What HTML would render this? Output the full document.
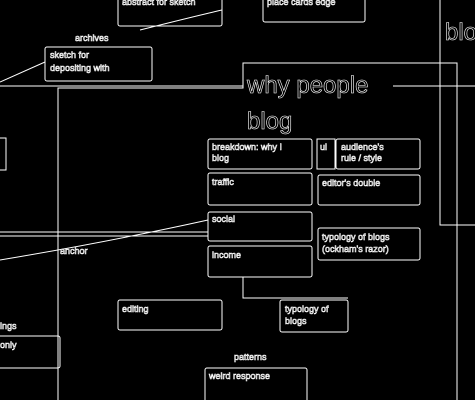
<!DOCTYPE html>
<html><head><meta charset="utf-8"><style>
html,body{margin:0;padding:0;background:#000;width:475px;height:400px;overflow:hidden}
svg{display:block}
text{font-family:"Liberation Sans",sans-serif;fill:#000;stroke:#fff;stroke-width:0.6}
.t{font-size:9px}
</style></head><body>
<svg width="475" height="400" viewBox="0 0 475 400" fill="none" stroke="#fff" stroke-width="1">
<!-- frames -->
<path d="M58 400 V88 H243 V63 H457 V400"/>
<path d="M0 86 H243 M393 86 H475"/>
<path d="M440 0 V225 H475"/>
<path d="M0 232 H208 M0 236 H208"/>
<path d="M0 260 C60 250 140 235 208 220"/>
<path d="M0 82 L45 62"/>
<path d="M140 30 C180 20 200 15 222 10"/>
<path d="M243 277 V298 H348"/>
<!-- top boxes -->
<rect x="118" y="-5" width="104" height="31" rx="2"/>
<text class="t" x="122" y="5">abstract for sketch</text>
<rect x="263" y="-5" width="102" height="27" rx="2"/>
<text class="t" x="267" y="5">place cards edge</text>
<text x="445" y="40" font-size="24">blo</text>
<!-- sketch -->
<rect x="45" y="47" width="107" height="34" rx="2"/>
<text class="t" x="50" y="58">sketch for</text>
<text class="t" x="50" y="71">depositing with</text>
<text class="t" x="75" y="41">archives</text>
<!-- title -->
<text x="247" y="93" font-size="24">why people</text>
<text x="247" y="129" font-size="24">blog</text>
<!-- boxes -->
<rect x="208" y="139" width="104" height="30" rx="2"/>
<text class="t" x="212" y="150">breakdown: why I</text>
<text class="t" x="212" y="161">blog</text>
<rect x="317" y="139" width="18" height="30"/>
<text class="t" x="320" y="150">ui</text>
<rect x="336" y="139" width="84" height="30" rx="2"/>
<text class="t" x="341" y="150">audience's</text>
<text class="t" x="341" y="161">rule / style</text>
<rect x="208" y="173" width="104" height="32" rx="2"/>
<text class="t" x="212" y="185">traffic</text>
<rect x="318" y="175" width="102" height="30" rx="2"/>
<text class="t" x="322" y="186">editor's double</text>
<rect x="208" y="212" width="104" height="29" rx="2"/>
<text class="t" x="212" y="222">social</text>
<rect x="208" y="246" width="104" height="31" rx="2"/>
<text class="t" x="212" y="258">income</text>
<rect x="318" y="228" width="102" height="32" rx="2"/>
<text class="t" x="322" y="240">typology of blogs</text>
<text class="t" x="322" y="252">(ockham's razor)</text>
<rect x="118" y="300" width="104" height="30" rx="2"/>
<text class="t" x="122" y="312">editing</text>
<rect x="280" y="300" width="68" height="32" rx="2"/>
<text class="t" x="285" y="312">typology of</text>
<text class="t" x="285" y="324">blogs</text>
<text class="t" x="234" y="360">patterns</text>
<rect x="205" y="368" width="102" height="40" rx="2"/>
<text class="t" x="209" y="379">weird response</text>
<text class="t" x="60" y="254">anchor</text>
<rect x="-10" y="336" width="70" height="32" rx="2"/>
<text class="t" x="0" y="348">only</text>
<text class="t" x="0" y="329">ings</text>
<rect x="-10" y="138" width="16" height="32"/>
</svg>
</body></html>
